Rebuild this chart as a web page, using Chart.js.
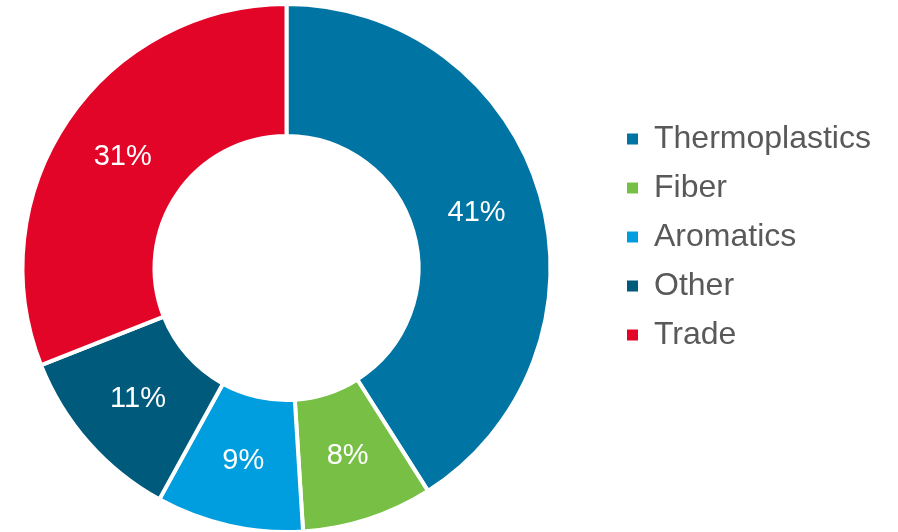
<!DOCTYPE html>
<html>
<head>
<meta charset="utf-8">
<script src="https://cdn.jsdelivr.net/npm/chart.js@4"></script>
<style>
  html, body { margin: 0; padding: 0; background: #fff; }
  #wrap { width: 898px; height: 532px; }
</style>
</head>
<body>
<div id="wrap"><canvas id="shareChart"></canvas></div>
<script>
const segments = ['Thermoplastics', 'Fiber', 'Aromatics', 'Other', 'Trade'];
const shares = [41, 8, 9, 11, 31];
const segmentColors = ['#0074A2', '#77C045', '#009EDE', '#005A7C', '#E20528'];

const FONT = '"Liberation Sans", Arial, sans-serif';

// percent labels in the middle of each ring segment
const sliceLabels = {
  id: 'sliceLabels',
  afterDatasetsDraw(chart) {
    const ctx = chart.ctx;
    const meta = chart.getDatasetMeta(0);
    ctx.save();
    ctx.font = '29px ' + FONT;
    ctx.fillStyle = '#ffffff';
    ctx.textAlign = 'center';
    ctx.textBaseline = 'middle';
    meta.data.forEach((arc, i) => {
      const pos = arc.tooltipPosition();
      ctx.fillText(shares[i] + '%', pos.x, pos.y);
    });
    ctx.restore();
  }
};

// push the legend column further right, away from the ring
const legendShift = {
  id: 'legendShift',
  afterLayout(chart) {
    const lg = chart.legend;
    lg.left += 37;
    lg.right += 37;
  }
};

const shareChart = new Chart(document.getElementById('shareChart'), {
  type: 'doughnut',
  data: {
    labels: segments,
    datasets: [{
      data: shares,
      backgroundColor: segmentColors,
      borderColor: '#ffffff',
      borderWidth: 4
    }]
  },
  options: {
    responsive: true,
    maintainAspectRatio: false,
    animation: false,
    radius: 264,
    cutout: '50%',
    layout: {
      padding: { left: 0, right: 65, top: 4, bottom: 0 }
    },
    plugins: {
      tooltip: { enabled: false },
      legend: {
        position: 'right',
        align: 'start',
        maxWidth: 260,
        title: {
          display: true,
          text: ' ',
          font: { size: 10 },
          padding: { top: 90, bottom: 0 }
        },
        labels: {
          boxWidth: 11,
          boxHeight: 11,
          padding: 17,
          color: '#595959',
          font: { size: 32, family: FONT },
          generateLabels(chart) {
            const items = Chart.overrides.doughnut.plugins.legend.labels.generateLabels(chart);
            items.forEach(it => { it.lineWidth = 0; });
            return items;
          }
        }
      }
    }
  },
  plugins: [sliceLabels, legendShift]
});
</script>
</body>
</html>
